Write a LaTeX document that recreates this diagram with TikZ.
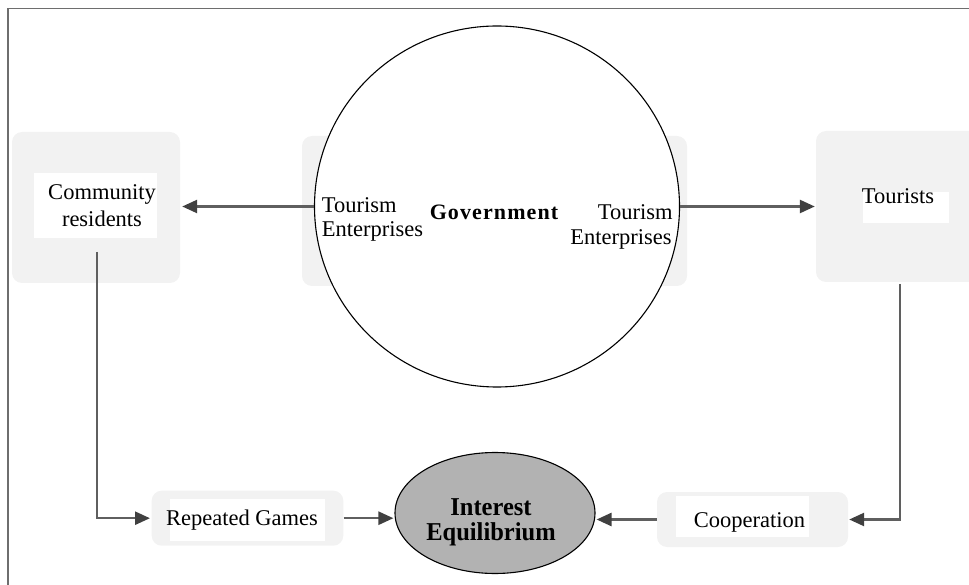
\documentclass[tikz,border=0pt]{standalone}
\usepackage{fontspec}
\setmainfont{Liberation Serif}
\usetikzlibrary{arrows.meta,shapes.geometric}
\definecolor{boxgray}{RGB}{242,242,242}
\definecolor{linegray}{RGB}{95,95,95}
\definecolor{headgray}{RGB}{64,64,64}
\definecolor{framegray}{RGB}{110,110,110}
\definecolor{ellgray}{RGB}{178,178,178}
\begin{document}
\begin{tikzpicture}[x=1pt,y=-1pt,
  graybox/.style={draw=none, fill=boxgray, rounded corners=10pt, inner sep=0pt},
  whitebox/.style={draw=none, fill=white, inner sep=0pt},
  lbl/.style={inner sep=0pt, font=\fontsize{22.5}{26}\selectfont, anchor=base},
  boldlbl/.style={inner sep=0pt, font=\fontsize{24.5}{28}\selectfont\bfseries, anchor=base},
  flow/.style={draw=linegray, line width=2.5pt, -{Triangle[length=15pt,width=13pt,color=headgray]}},
  frameline/.style={draw=framegray, line width=1.5pt}]
\useasboundingbox (0,0) rectangle (969,585);
% frame
\coordinate (fTR) at (975,8.5);
\coordinate (fTL) at (8,8.5);
\coordinate (fBL) at (8,590);
\draw[frameline] (fTR) -- (fTL) -- (fBL);
% community residents
\node[graybox, minimum width=168pt, minimum height=151pt] (commbox) at (96,207.5) {};
\node[whitebox, minimum width=123pt, minimum height=65pt] (commwhite) at (95.5,205.5) {};
\node[lbl] (comm1) at (102,200) {Community};
\node[lbl] (comm2) at (102,227) {residents};
% middle box and government circle
\node[graybox, minimum width=385pt, minimum height=150pt] (midbox) at (494.5,211) {};
\node[ellipse, draw=black, line width=1.1pt, fill=white, minimum width=365pt, minimum height=361pt, inner sep=0pt] (gov) at (497,206.5) {};
\node[lbl, anchor=base west] (teL1) at (321.7,212.3) {Tourism};
\node[lbl, anchor=base west] (teL2) at (321.7,236.7) {Enterprises};
\node[lbl, font=\fontsize{22}{26}\selectfont\bfseries\addfontfeatures{LetterSpace=5}] (govt) at (494,220) {Government};
\node[lbl, anchor=base east] (teR1) at (672.7,220) {Tourism};
\node[lbl, anchor=base east] (teR2) at (671.7,245) {Enterprises};
% tourists
\node[graybox, minimum width=169pt, minimum height=151pt] (tourbox) at (900.5,206.5) {};
\node[whitebox, minimum width=86pt, minimum height=31pt] (tourwhite) at (906,207.5) {};
\node[lbl] (tourtxt) at (898,204) {Tourists};
% repeated games
\node[graybox, minimum width=191.6pt, minimum height=55pt] (repbox) at (247.5,518.2) {};
\node[whitebox, minimum width=155pt, minimum height=41.7pt] (repwhite) at (247.5,519.85) {};
\node[lbl] (reptxt) at (242,525.7) {Repeated Games};
% cooperation
\node[graybox, minimum width=191pt, minimum height=55pt] (coopbox) at (752.5,519.5) {};
\node[whitebox, minimum width=133pt, minimum height=41pt] (coopwhite) at (742.5,516.5) {};
\node[lbl] (cooptxt) at (749.5,527) {Cooperation};
% interest equilibrium
\node[ellipse, draw=black, line width=1.1pt, fill=ellgray, minimum width=200pt, minimum height=121pt, inner sep=0pt] (interest) at (495,513) {};
\node[boldlbl] (int1) at (491,515.5) {\scalebox{1}[1.05]{Interest}};
\node[boldlbl] (int2) at (491,540) {\scalebox{1}[1.05]{Equilibrium}};
% connectors
\coordinate (cstart) at (97,252);
\coordinate (tstart) at (900,284);
\draw[flow, shorten >=2pt] (gov.west) -- (commbox.east |- gov.west);
\draw[flow, shorten >=1pt] (gov.east) -- (tourbox.west |- gov.east);
\draw[flow, shorten >=1.5pt] (cstart) -- (cstart |- repbox.west) -- (repbox.west);
\draw[flow, shorten >=1pt] (tstart) -- (tstart |- coopbox.east) -- (coopbox.east);
\draw[flow, shorten >=1pt] (repbox.east) -- (repbox.east -| interest.west);
\draw[flow, shorten >=1pt] (coopbox.west) -- (coopbox.west -| interest.east);
\end{tikzpicture}
\end{document}
